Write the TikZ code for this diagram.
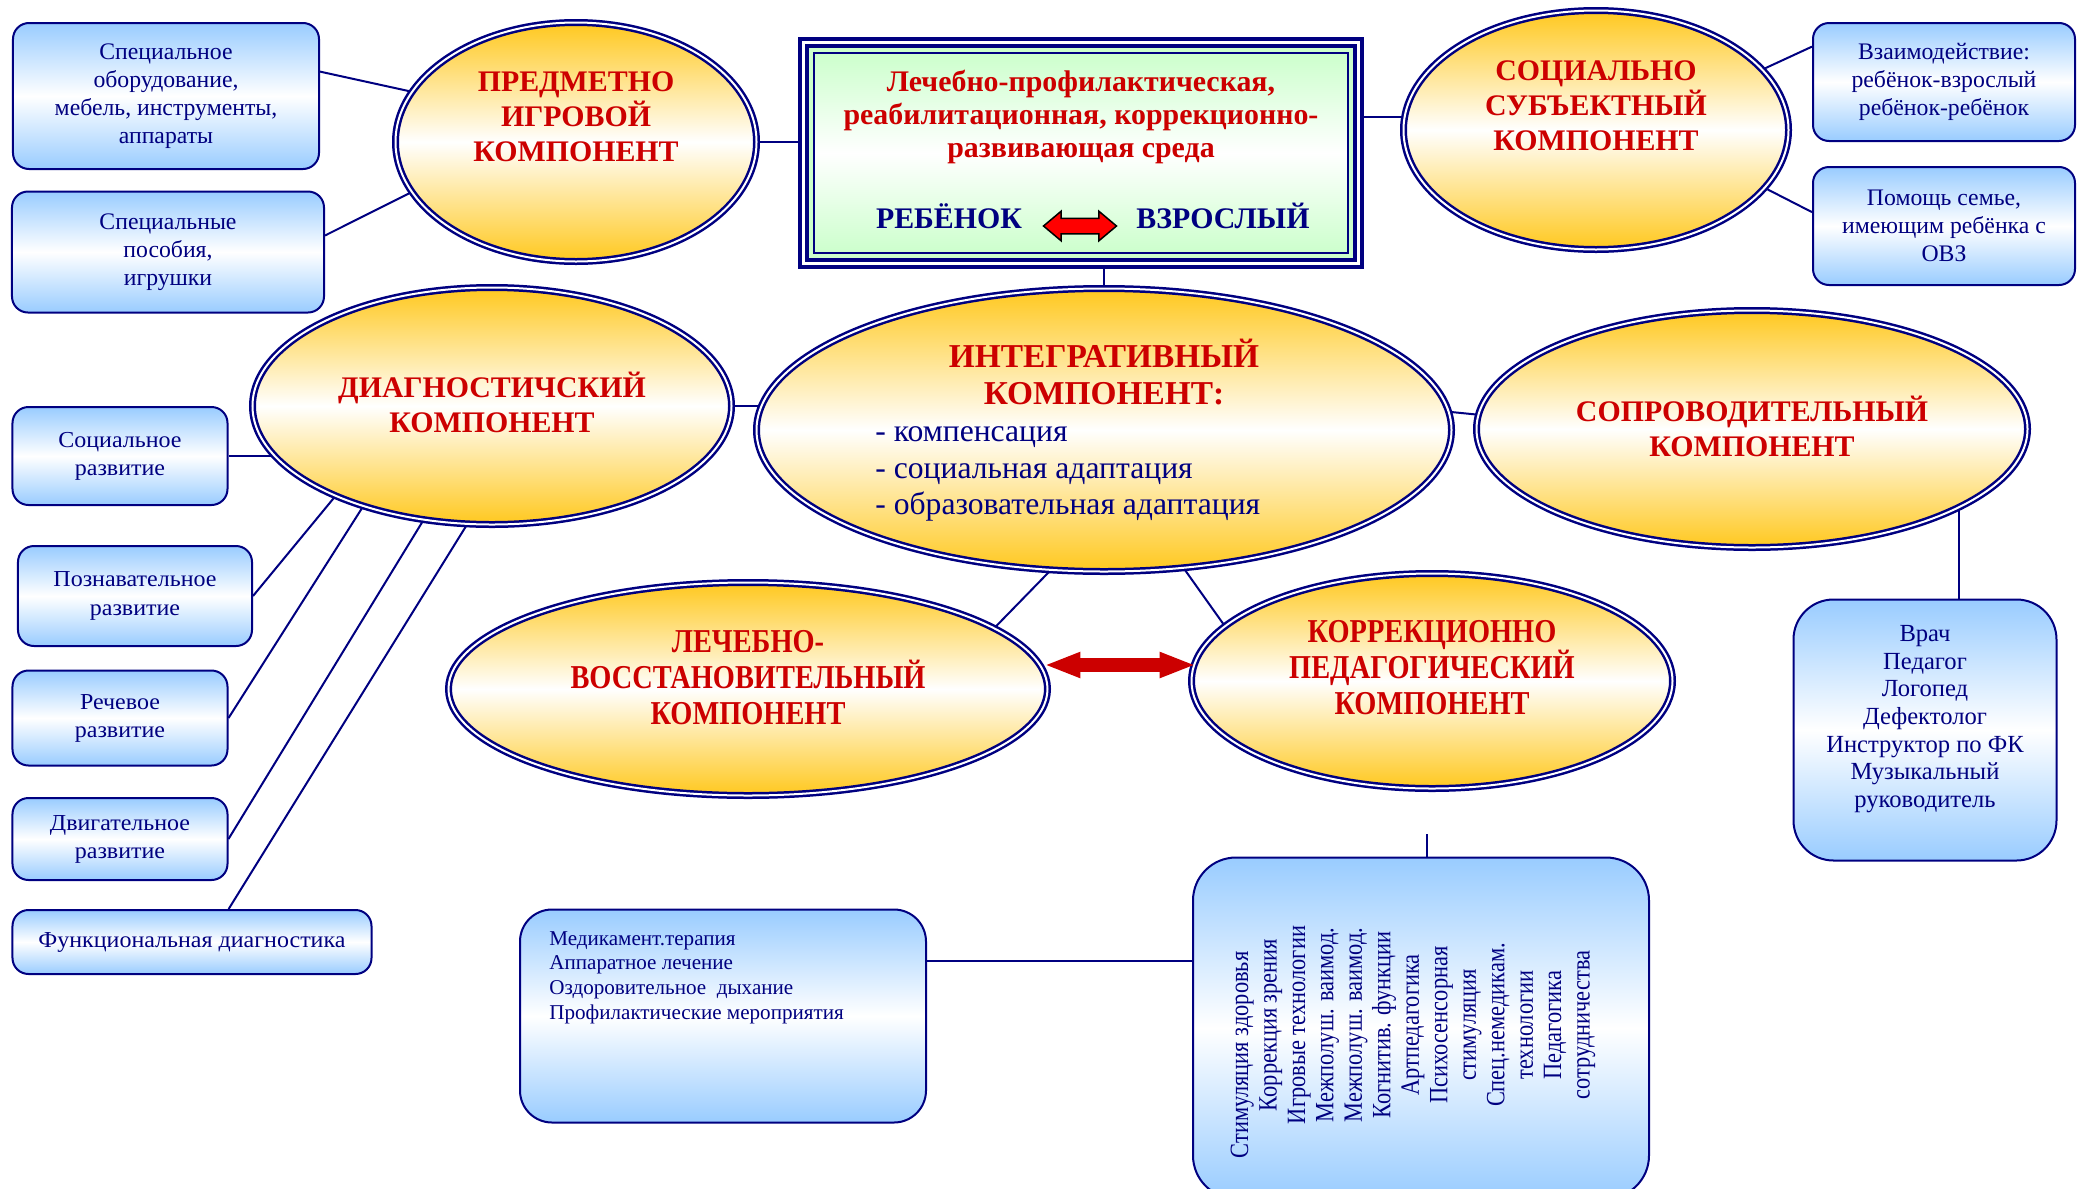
\documentclass[tikz,border=0pt]{standalone}
\usepackage{fontspec}
\setmainfont{Liberation Serif}
\newfontfamily\narrowserif[FakeStretch=0.85]{Liberation Serif}
\newfontfamily\wideserif[FakeStretch=1.05]{Liberation Serif}
\usetikzlibrary{shapes.geometric,shapes.arrows,backgrounds,calc}

\definecolor{navyline}{RGB}{0,0,128}
\definecolor{titlered}{RGB}{204,0,0}
\definecolor{goldtone}{RGB}{255,200,30}
\definecolor{skytone}{RGB}{153,204,255}
\definecolor{minttone}{RGB}{204,255,204}

\begin{document}
\begin{tikzpicture}[x=0.2mm,y=-0.2mm]
	\tikzset{
		comp/.style={ellipse, inner sep=0pt, draw=navyline, line width=0.5mm, double=white, double distance=0.4mm,
			top color=goldtone, bottom color=goldtone, middle color=white},
		title/.style={text=titlered, align=center, inner sep=0pt, font=\bfseries\fontsize{17}{20}\selectfont},
		narrowtitle/.style={title, font=\narrowserif\bfseries\fontsize{19}{20.5}\selectfont},
		infobox/.style={rectangle, rounded corners=3.2mm, draw=navyline, line width=0.4mm, inner sep=0pt,
			top color=skytone, bottom color=skytone, middle color=white, text=navyline, align=center,
			font=\fontsize{13.5}{16}\selectfont},
		devbox/.style={infobox, font=\wideserif\fontsize{13}{16}\selectfont},
		listtext/.style={align=left, inner sep=0pt, text=navyline},
		link/.style={navyline, line width=0.4mm},
		frame/.style={rectangle, draw=navyline, line width=0.8mm, double=white, double distance=0.6mm, fill=minttone,
			minimum width=111mm, minimum height=44.2mm},
		envbox/.style={rectangle, draw=navyline, line width=0.4mm, top color=minttone, bottom color=minttone,
			middle color=white, minimum width=106.8mm, minimum height=40mm},
		pairtext/.style={text=navyline, inner sep=0pt, font=\bfseries\fontsize{17}{20}\selectfont},
	}
	\useasboundingbox (0,0) rectangle (2086,1189);

	% central frame
	\node[frame] (frame) at (1081,153) {};
	\node[envbox] (env) at (1081,153) {};
	\node[title, font=\bfseries\fontsize{17}{19}\selectfont] (sreda) at (1081,117) {Лечебно-профилактическая,\\реабилитационная, коррекционно-\\развивающая среда};
	\node[pairtext] (child) at (949,216) {РЕБЁНОК};
	\node[pairtext] (adult) at (1223,216) {ВЗРОСЛЫЙ};
	\node[double arrow, draw=black, fill=red, line width=0.3mm, inner xsep=0pt, inner ysep=1.4mm, minimum height=14.6mm,
		double arrow head extend=1.4mm, double arrow tip angle=80] (bothways) at (1080,226) {};

	% components
	\node[comp, minimum width=72.2mm, minimum height=47.8mm] (play) at (576,142) {};
	\node[title] (playtxt) at ([yshift=5mm]play.center) {ПРЕДМЕТНО\\ИГРОВОЙ\\КОМПОНЕНТ};
	\node[comp, minimum width=77mm, minimum height=47.8mm] (social) at (1596,130) {};
	\node[title] (socialtxt) at ([yshift=4.8mm]social.center) {СОЦИАЛЬНО\\СУБЪЕКТНЫЙ\\КОМПОНЕНТ};
	\node[comp, minimum width=95.8mm, minimum height=47.4mm] (diag) at (492,406) {};
	\node[title] (diagtxt) at ([yshift=0.8mm]diag.center) {ДИАГНОСТИЧСКИЙ\\КОМПОНЕНТ};
	\node[comp, minimum width=139mm, minimum height=56.6mm] (integ) at (1104,430) {};
	\node[title, font=\bfseries\fontsize{19}{21}\selectfont] (integtxt) at (1104,372) {ИНТЕГРАТИВНЫЙ\\КОМПОНЕНТ:};
	\node[listtext, anchor=west, font=\fontsize{18}{21}\selectfont] (integlist) at (875,474)
		{- компенсация\\- социальная адаптация\\- образовательная адаптация};
	\node[comp, minimum width=110.2mm, minimum height=47.4mm] (escort) at (1752,429) {};
	\node[title] (escorttxt) at ([yshift=0.6mm]escort.center) {СОПРОВОДИТЕЛЬНЫЙ\\КОМПОНЕНТ};
	\node[comp, minimum width=119.8mm, minimum height=42.6mm] (heal) at (748,689) {};
	\node[narrowtitle] (healtxt) at ([yshift=2.2mm]heal.center) {ЛЕЧЕБНО-\\ВОССТАНОВИТЕЛЬНЫЙ\\КОМПОНЕНТ};
	\node[comp, minimum width=96.2mm, minimum height=43mm] (corr) at (1432,681) {};
	\node[narrowtitle] (corrtxt) at ([yshift=2.6mm]corr.center) {КОРРЕКЦИОННО\\ПЕДАГОГИЧЕСКИЙ\\КОМПОНЕНТ};
	\node[double arrow, fill=titlered, inner xsep=0pt, inner ysep=1.3mm, minimum height=29.4mm,
		double arrow head extend=1.3mm, double arrow tip angle=43] (linkarrow) at (1120,665) {};

	% boxes
	\node[infobox, minimum width=61.2mm, minimum height=29.2mm] (equip) at (166,96) {Специальное\\оборудование,\\мебель, инструменты,\\аппараты};
	\node[infobox, minimum width=62.4mm, minimum height=24.2mm] (toys) at (168,252) {Специальные\\пособия,\\игрушки};
	\node[infobox, minimum width=52.4mm, minimum height=23.6mm] (inter) at (1944,82) {Взаимодействие:\\ребёнок-взрослый\\ребёнок-ребёнок};
	\node[infobox, minimum width=52.4mm, minimum height=23.6mm] (family) at (1944,226) {Помощь семье,\\имеющим ребёнка с\\ОВЗ};
	\node[devbox, minimum width=43mm, minimum height=19.6mm] (soc) at (120,456) {Социальное\\развитие};
	\node[devbox, minimum width=46.8mm, minimum height=20mm] (cog) at (135,596) {Познавательное\\развитие};
	\node[devbox, minimum width=43mm, minimum height=19mm] (speech) at (120,718) {Речевое\\развитие};
	\node[devbox, minimum width=43mm, minimum height=16.4mm] (motor) at (120,839) {Двигательное\\развитие};
	\node[devbox, minimum width=71.8mm, minimum height=12.8mm] (func) at (192,942) {Функциональная диагностика};
	\node[infobox, rounded corners=8mm, minimum width=52.6mm, minimum height=52.2mm] (staff) at (1925,730) {};
	\node[listtext, align=center, font=\fontsize{14}{15.7}\selectfont] (stafflist) at ([yshift=2.2mm]staff.center)
		{Врач\\Педагог\\Логопед\\Дефектолог\\Инструктор по ФК\\Музыкальный\\руководитель};
	\node[infobox, rounded corners=6.4mm, minimum width=81.2mm, minimum height=42.6mm] (med) at (723,1016) {};
	\node[listtext, anchor=north west, font=\fontsize{12}{14.1}\selectfont] (medlist) at (549,931)
		{Медикамент.терапия\\Аппаратное лечение\\Оздоровительное~~дыхание\\Профилактические мероприятия};
	\node[infobox, rounded corners=8.6mm, minimum width=91.2mm, minimum height=68.2mm] (tech) at (1421,1028) {};
	\node[listtext, rotate=90, align=center, font=\narrowserif\fontsize{15}{16.2}\selectfont] (techlist) at (1413,1025)
		{Стимуляция здоровья\hspace*{12mm}\\Коррекция зрения\\Игровые технологии\\Межполуш. ваимод.\\Межполуш. ваимод.\\Когнитив. функции\\Артпедагогика\\Психосенсорная\\стимуляция\\Спец.немедикам.\\технологии\\Педагогика\\сотрудничества};

	\coordinate (corrtail) at (1427,834);

	\begin{scope}[on background layer]
		\draw[link] (equip.9) -- (play.163);
		\draw[link] (toys.6) -- (play.197);
		\draw[link] (play.east) -- (play.east -| frame.center);
		\draw[link] (social.176) -- (social.176 -| frame.center);
		\draw[link] (social.20) -- (inter.165);
		\draw[link] (social.341) -- (family.174);
		\draw[link] (integ.north |- frame.center) -- (integ.center);
		\draw[link] (diag.center) -- (diag.center -| integ.center);
		\draw[link] (integ.3) -- (escort.177);
		\draw[link] (soc.east) -- (soc.east -| diag.center);
		\draw[link] (cog.east) -- (diag.210);
		\draw[link] (speech.east) -- (diag.218);
		\draw[link] (motor.east) -- (diag.239);
		\draw[link] (func.42) -- (diag.258);
		\draw[link] (integ.249) -- (heal.14);
		\draw[link] (integ.300) -- (corr.165);
		\draw[link] (escort.339) -- (escort.339 |- staff.center);
		\draw[link] (corrtail) -- (corrtail |- tech.center);
		\draw[link] (med.15) -- (med.15 -| tech.center);
	\end{scope}
\end{tikzpicture}
\end{document}
